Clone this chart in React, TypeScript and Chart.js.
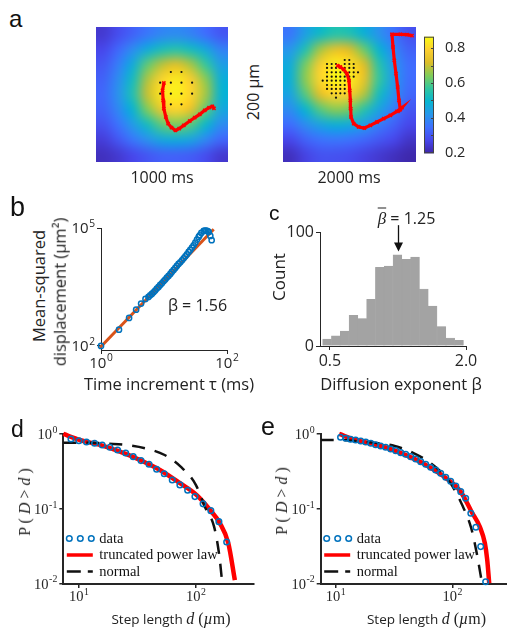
import React, { useEffect, useRef } from "react";
import { Chart, registerables } from "chart.js";
Chart.register(...registerables);

const SANS = '"Open Sans", "Noto Sans", sans-serif';
const SERIF = '"Liberation Serif", "DejaVu Serif", serif';
const LETTER = '"Liberation Sans", Arial, sans-serif';
const AX = "#262626";
const BLUE = "#0072BD";
const ORANGE = "#D95319";
const RED = "#FF0000";
const GRAY = "#a3a3a3";

// ---------------- panel a ----------------
const CB_MIN = 0.195;
const CB_MAX = 0.867;
const CB_LABEL_TICKS = [0.2, 0.4, 0.6, 0.8];
const CB_MINOR_TICKS = [0.2, 0.3, 0.4, 0.5, 0.6, 0.7, 0.8];
const PARULA = [
  [0.2422, 0.1504, 0.6603],
  [0.2803, 0.2782, 0.9221],
  [0.244, 0.4358, 0.9988],
  [0.154, 0.5902, 0.9218],
  [0.0297, 0.7082, 0.8163],
  [0.1938, 0.7758, 0.6251],
  [0.5044, 0.7993, 0.348],
  [0.8634, 0.7406, 0.1596],
  [0.9892, 0.8136, 0.1885],
  [0.9769, 0.9839, 0.0805],
];

// rows top -> bottom, columns left -> right
const HEAT_1000 = [
  [0.24, 0.28, 0.32, 0.36, 0.39, 0.4, 0.38, 0.34, 0.3],
  [0.27, 0.33, 0.4, 0.47, 0.53, 0.55, 0.52, 0.46, 0.38],
  [0.3, 0.37, 0.47, 0.61, 0.69, 0.73, 0.67, 0.57, 0.44],
  [0.32, 0.4, 0.52, 0.68, 0.8, 0.84, 0.78, 0.65, 0.48],
  [0.33, 0.41, 0.54, 0.7, 0.83, 0.85, 0.8, 0.67, 0.49],
  [0.32, 0.39, 0.49, 0.64, 0.76, 0.8, 0.74, 0.61, 0.46],
  [0.29, 0.35, 0.43, 0.52, 0.61, 0.64, 0.6, 0.5, 0.4],
  [0.25, 0.3, 0.36, 0.41, 0.46, 0.47, 0.45, 0.39, 0.33],
  [0.22, 0.24, 0.27, 0.3, 0.32, 0.32, 0.31, 0.28, 0.24],
];
const HEAT_2000 = [
  [0.36, 0.44, 0.51, 0.55, 0.54, 0.48, 0.41, 0.35, 0.29],
  [0.42, 0.54, 0.67, 0.74, 0.72, 0.62, 0.49, 0.39, 0.32],
  [0.47, 0.63, 0.78, 0.845, 0.82, 0.72, 0.55, 0.42, 0.34],
  [0.48, 0.65, 0.8, 0.86, 0.845, 0.74, 0.57, 0.43, 0.34],
  [0.45, 0.6, 0.73, 0.8, 0.78, 0.68, 0.52, 0.41, 0.33],
  [0.4, 0.49, 0.6, 0.65, 0.63, 0.55, 0.45, 0.37, 0.3],
  [0.34, 0.4, 0.45, 0.48, 0.47, 0.43, 0.37, 0.32, 0.27],
  [0.27, 0.32, 0.35, 0.36, 0.35, 0.33, 0.3, 0.27, 0.23],
  [0.22, 0.26, 0.29, 0.29, 0.28, 0.26, 0.24, 0.22, 0.2],
];

// trajectories in µm (map is 200 x 200 µm)
const TRACK_1000_X = [102.8, 100.8, 101.8, 102.8, 105.8, 109.3, 114.4, 120.4, 126, 133, 142.1, 149.6, 157.2, 164.7, 171.3, 176.3, 178.8];
const TRACK_1000_Y = [117, 106.2, 91.4, 79, 66.7, 56.8, 50.9, 46.9, 49.4, 54.3, 60.7, 65.7, 70.6, 76.5, 80.5, 82.5, 79.5];
const SITES_1000_COLS = [97.2, 113.4, 129.5, 145.6];
const SITES_1000_ROWS = [133.3, 117.5, 101.2, 85.4];
const SITES_1000_MASK = [[1, 2], [0, 1, 2, 3], [0, 1, 2, 3], [1, 2]];

const TRACK_2000_X = [194, 186.5, 176.4, 163.9, 165.4, 167.4, 169.9, 172.4, 174.4, 176.4, 178.9, 171.4, 161.4, 151.4, 141.4, 131.3, 122.3, 113.8, 106.3, 102.3, 101.8, 101.3, 100.3, 99.2, 96.2, 91.2, 86.2, 82.2];
const TRACK_2000_Y = [187.2, 188.6, 189.1, 189.1, 170.4, 150.6, 130.9, 111.1, 91.4, 77.5, 80.5, 75.1, 69.1, 64.2, 59.3, 54.3, 50.4, 51.9, 56.8, 66.7, 79, 91.4, 106.2, 121, 130.9, 137.3, 140.7, 142.7];
const SITES_2000_COLS = [59.7, 66.2, 73.2, 79.7, 86.2, 92.8, 99.7, 106.3, 112.8];
const SITES_2000_ROWS = [151.1, 145.2, 139.3, 132.9, 126.4, 120.5, 114.1, 108.2, 101.8, 95.3];
const SITES_2000_MASK = [
  [5, 6],
  [1, 2, 3, 5, 6, 7],
  [1, 2, 3, 4, 5, 6, 7],
  [1, 2, 3, 4, 5, 6, 7, 8],
  [1, 2, 3, 4, 5, 6, 7],
  [0, 1, 2, 3, 4, 5, 6],
  [1, 2, 3, 4, 5, 6],
  [1, 2, 3, 4, 5],
  [2, 3, 4, 5],
  [3],
];

// ---------------- panel b ----------------
const MSD_TAU = [1, 1.93, 2.79, 3.61, 4.33, 5.08, 5.67, 6.03, 6.41, 6.81, 7.24, 7.69, 8.19, 8.7, 9.25, 9.83, 10.45, 11.1, 11.8, 12.6, 13.3, 14.2, 15.1, 16.0, 17.0, 18.1, 19.3, 20.5, 21.8, 23.1, 24.6, 26.1, 27.8, 29.5, 31.4, 33.4, 35.5, 36.8, 39.1, 42.6, 44.8, 47.0, 49.3, 51.2, 54.4, 57.1];
const MSD_VAL = [100, 260, 516, 840, 1195, 1570, 1766, 1945, 2104, 2321, 2558, 2877, 3170, 3565, 3933, 4419, 4875, 5480, 6040, 6790, 7640, 8590, 9660, 10860, 12200, 13460, 15100, 17020, 19100, 21500, 24700, 27700, 31800, 36400, 42600, 50800, 59400, 65500, 75000, 84400, 86100, 86100, 82800, 79600, 63000, 48900];
const MSD_FIT_TAU = [0.96, 61.5];
const MSD_FIT_VAL = [90, 93000];
const B_X_TICKS = [1, 100];
const B_X_EXP = ["0", "2"];
const B_Y_TICKS = [100, 100000];
const B_Y_EXP = ["2", "5"];

// ---------------- panel c ----------------
const BETA_BINS = [0.468, 0.565, 0.662, 0.759, 0.856, 0.953, 1.05, 1.147, 1.244, 1.341, 1.438, 1.535, 1.632, 1.729, 1.826, 1.923];
const BETA_COUNTS = [6, 9, 13, 27, 24, 41, 69, 70, 80, 76, 78, 50, 35, 17, 7, 5];
const BETA_MEAN = 1.25;
const ARROW_FROM = 106;
const ARROW_TO = 83;
const C_X_TICKS = [0.5, 2.0];
const C_Y_TICKS = [0, 100];

// ---------------- panels d, e ----------------
const D_DATA_X = [8.55, 10, 11.6, 13.6, 15.8, 18.4, 21.4, 25.1, 29.1, 33.9, 39.7, 46.1, 53.6, 62.7, 72.9, 84.9, 98, 115, 134, 157, 183];
const D_DATA_Y = [0.857, 0.813, 0.782, 0.75, 0.713, 0.664, 0.611, 0.557, 0.497, 0.44, 0.393, 0.337, 0.294, 0.242, 0.208, 0.176, 0.145, 0.116, 0.094, 0.067, 0.0358];
const D_FIT_X = [7.35, 10.2, 15.1, 22.4, 33.2, 49.2, 73, 101, 132, 160, 189, 215];
const D_FIT_Y = [1.0, 0.831, 0.713, 0.58, 0.449, 0.33, 0.219, 0.153, 0.096, 0.064, 0.0344, 0.011];
const D_NORM_X = [7.35, 12, 18, 24, 37, 54, 74, 100, 119, 143, 158, 168];
const D_NORM_Y = [0.765, 0.765, 0.74, 0.72, 0.643, 0.523, 0.365, 0.207, 0.106, 0.057, 0.024, 0.0098];

const E_DATA_X = [11.0, 12.2, 13.4, 14.8, 16.4, 18.1, 20.0, 22.0, 24.3, 26.8, 29.6, 32.7, 36.1, 39.8, 44.0, 48.5, 53.5, 59.1, 65.2, 71.9, 79.4, 87.7, 96.7, 107, 118, 130, 144, 159, 175, 193];
const E_DATA_Y = [0.903, 0.875, 0.849, 0.831, 0.806, 0.782, 0.75, 0.719, 0.691, 0.664, 0.63, 0.598, 0.562, 0.535, 0.497, 0.463, 0.426, 0.393, 0.358, 0.33, 0.298, 0.263, 0.233, 0.201, 0.169, 0.138, 0.0868, 0.0564, 0.031, 0.0105];
const E_FIT_X = [10.7, 14.8, 20.0, 26.8, 36.1, 48.5, 65.2, 87.7, 118, 146, 172, 190, 199, 207];
const E_FIT_Y = [1.0, 0.83, 0.745, 0.66, 0.555, 0.455, 0.352, 0.258, 0.168, 0.091, 0.057, 0.0344, 0.0206, 0.01];
const E_NORM_X = [7.43, 11, 15, 22, 32, 46, 62, 80, 100, 122, 145, 162, 180];
const E_NORM_Y = [0.83, 0.83, 0.8, 0.76, 0.69, 0.56, 0.43, 0.31, 0.2, 0.11, 0.055, 0.025, 0.0098];

const DE_X_TICKS = [10, 100];
const DE_X_EXP = ["1", "2"];
const DE_Y_TICKS = [0.01, 0.1, 1];
const DE_Y_EXP = ["-2", "-1", "0"];
const LEGEND_LABELS = ["data", "truncated power law", "normal"];

// ---------------- helpers ----------------
function parula(t: number) {
  t = Math.max(0, Math.min(1, t));
  const n = PARULA.length - 1;
  const f = t * n;
  const i = Math.min(n - 1, Math.floor(f));
  const u = f - i;
  const a = PARULA[i], b = PARULA[i + 1];
  return [0, 1, 2].map((k) => Math.round(255 * (a[k] + (b[k] - a[k]) * u)));
}

function pts(xs: number[], ys: number[]) {
  return xs.map((x, i) => ({ x, y: ys[i] }));
}

function sitePts(cols: number[], rows: number[], mask: number[][]) {
  const out: any[] = [];
  mask.forEach((cs, r) => cs.forEach((c) => out.push({ x: cols[c], y: rows[r] })));
  return out;
}

function fixedTicks(values: number[]) {
  return (s: any) => {
    s.ticks = values.map((v) => ({ value: v }));
  };
}

function heatPlugin(grid: number[][]) {
  return {
    id: "heat",
    beforeDatasetsDraw(chart: any) {
      const { ctx, scales } = chart;
      const rows = grid.length, cols = grid[0].length;
      const src = document.createElement("canvas");
      src.width = cols;
      src.height = rows;
      const sctx = src.getContext("2d")!;
      const img = sctx.createImageData(cols, rows);
      grid.forEach((row, j) =>
        row.forEach((v, i) => {
          const c = parula((v - CB_MIN) / (CB_MAX - CB_MIN));
          const k = (j * cols + i) * 4;
          img.data[k] = c[0];
          img.data[k + 1] = c[1];
          img.data[k + 2] = c[2];
          img.data[k + 3] = 255;
        })
      );
      sctx.putImageData(img, 0, 0);
      const x0 = scales.x.getPixelForValue(0), x1 = scales.x.getPixelForValue(200);
      const y0 = scales.y.getPixelForValue(200), y1 = scales.y.getPixelForValue(0);
      ctx.save();
      ctx.imageSmoothingEnabled = true;
      ctx.imageSmoothingQuality = "high";
      ctx.drawImage(src, x0, y0, x1 - x0, y1 - y0);
      ctx.restore();
    },
  };
}

const colorbarPlugin = {
  id: "cbar",
  beforeDatasetsDraw(chart: any) {
    const { ctx, chartArea: a, scales } = chart;
    const y = scales.y;
    const g = ctx.createLinearGradient(0, y.getPixelForValue(CB_MIN), 0, y.getPixelForValue(CB_MAX));
    PARULA.forEach((c, i) =>
      g.addColorStop(i / (PARULA.length - 1), `rgb(${c.map((v) => Math.round(v * 255)).join(",")})`)
    );
    ctx.save();
    ctx.fillStyle = g;
    ctx.fillRect(a.left, a.top, a.right - a.left, a.bottom - a.top);
    ctx.strokeStyle = "#444";
    ctx.lineWidth = 1;
    ctx.strokeRect(a.left + 0.5, a.top + 0.5, a.right - a.left - 1, a.bottom - a.top - 1);
    CB_MINOR_TICKS.forEach((v) => {
      const py = Math.round(y.getPixelForValue(v)) + 0.5;
      ctx.beginPath();
      ctx.moveTo(a.right - 3, py);
      ctx.lineTo(a.right, py);
      ctx.stroke();
    });
    ctx.restore();
  },
};

const arrowPlugin = {
  id: "arrow",
  afterDatasetsDraw(chart: any) {
    const { ctx, scales } = chart;
    const px = Math.round(scales.x.getPixelForValue(BETA_MEAN)) + 0.5;
    const y0 = scales.y.getPixelForValue(ARROW_FROM);
    const y1 = scales.y.getPixelForValue(ARROW_TO);
    ctx.save();
    ctx.strokeStyle = "#111";
    ctx.fillStyle = "#111";
    ctx.lineWidth = 1.3;
    ctx.beginPath();
    ctx.moveTo(px, y0);
    ctx.lineTo(px, y1 - 6);
    ctx.stroke();
    ctx.beginPath();
    ctx.moveTo(px - 4.5, y1 - 9);
    ctx.lineTo(px + 4.5, y1 - 9);
    ctx.lineTo(px, y1);
    ctx.closePath();
    ctx.fill();
    ctx.restore();
  },
};

// power-of-ten tick labels with a real superscript exponent
function powLabels(xT: number[], xE: string[], yT: number[], yE: string[], family: string, size: number) {
  return {
    id: "pow",
    afterDraw(chart: any) {
      const { ctx, chartArea: a, scales } = chart;
      const sup = size * 0.68;
      ctx.save();
      ctx.fillStyle = AX;
      ctx.textBaseline = "alphabetic";
      ctx.textAlign = "left";
      const draw = (px: number, py: number, exp: string, align: string) => {
        ctx.font = `${size}px ${family}`;
        const w1 = ctx.measureText("10").width;
        ctx.font = `${sup}px ${family}`;
        const w2 = ctx.measureText(exp).width;
        const total = w1 + w2 + 0.5;
        const x0 = align === "center" ? px - total / 2 : px - total;
        ctx.font = `${size}px ${family}`;
        ctx.fillText("10", x0, py);
        ctx.font = `${sup}px ${family}`;
        ctx.fillText(exp, x0 + w1 + 0.5, py - size * 0.42);
      };
      xT.forEach((v, i) => draw(scales.x.getPixelForValue(v), a.bottom + 6 + size * 0.78, xE[i], "center"));
      yT.forEach((v, i) => draw(a.left - 6, scales.y.getPixelForValue(v) + size * 0.36, yE[i], "right"));
      ctx.restore();
    },
  };
}

const legendPlugin = {
  id: "lg",
  afterDatasetsDraw(chart: any) {
    const { ctx, chartArea: a } = chart;
    const L = a.left, B = a.bottom;
    const rowsY = [B - 45.5, B - 29, B - 12.5];
    ctx.save();
    ctx.strokeStyle = BLUE;
    ctx.lineWidth = 1.5;
    [6, 17, 28].forEach((dx) => {
      ctx.beginPath();
      ctx.arc(L + dx, rowsY[0], 2.8, 0, Math.PI * 2);
      ctx.stroke();
    });
    ctx.strokeStyle = RED;
    ctx.lineWidth = 3.5;
    ctx.beginPath();
    ctx.moveTo(L + 3.5, rowsY[1]);
    ctx.lineTo(L + 29.5, rowsY[1]);
    ctx.stroke();
    ctx.strokeStyle = "#111";
    ctx.lineWidth = 2.5;
    ctx.beginPath();
    ctx.moveTo(L + 3.5, rowsY[2]);
    ctx.lineTo(L + 17.5, rowsY[2]);
    ctx.moveTo(L + 24.5, rowsY[2]);
    ctx.lineTo(L + 29.5, rowsY[2]);
    ctx.stroke();
    ctx.fillStyle = "#111";
    ctx.font = `14.5px ${SERIF}`;
    ctx.textBaseline = "middle";
    LEGEND_LABELS.forEach((t, i) => ctx.fillText(t, L + 36, rowsY[i] + 0.5));
    ctx.restore();
  },
};

const baseOptions = (padding: any) => ({
  responsive: false,
  animation: false,
  devicePixelRatio: 1,
  events: [],
  layout: { padding, autoPadding: false },
  plugins: { legend: { display: false }, tooltip: { enabled: false } },
});

function heatConfig(grid: number[][], tx: number[], ty: number[], sites: any[]) {
  return {
    type: "scatter",
    data: {
      datasets: [
        {
          data: pts(tx, ty),
          showLine: true,
          borderColor: RED,
          borderWidth: 3.2,
          pointStyle: "crossRot",
          pointRadius: 2.3,
          pointBorderColor: RED,
          pointBorderWidth: 1.5,
          backgroundColor: RED,
        },
        { data: sites, pointRadius: 1.1, backgroundColor: "#111", borderWidth: 0, pointBorderWidth: 0 },
      ],
    },
    options: {
      ...baseOptions(0),
      scales: {
        x: { type: "linear", min: 0, max: 200, display: false },
        y: { type: "linear", min: 0, max: 200, display: false },
      },
    },
    plugins: [heatPlugin(grid)],
  };
}

function colorbarConfig() {
  return {
    type: "scatter",
    data: { datasets: [] },
    options: {
      ...baseOptions({ left: 4, top: 10, bottom: 10, right: 0 }),
      scales: {
        x: { type: "linear", min: 0, max: 1, display: false },
        y: {
          type: "linear",
          position: "right",
          min: CB_MIN,
          max: CB_MAX,
          afterBuildTicks: fixedTicks(CB_LABEL_TICKS),
          afterFit: (s: any) => { s.width = 36; },
          grid: { display: false },
          border: { display: false },
          ticks: { padding: 3, font: { family: SANS, size: 14.5 }, color: AX, callback: (v: any) => Number(v).toFixed(1) },
        },
      },
    },
    plugins: [colorbarPlugin],
  };
}

const tickGrid = (lw: number) => ({ display: true, drawOnChartArea: false, drawTicks: true, tickLength: 4, color: AX, lineWidth: lw });

function msdConfig() {
  return {
    type: "scatter",
    data: {
      datasets: [
        {
          data: pts(MSD_TAU, MSD_VAL),
          pointRadius: 2.6,
          pointBorderWidth: 1.5,
          borderColor: BLUE,
          pointBorderColor: BLUE,
          backgroundColor: "rgba(0,0,0,0)",
          clip: false,
        },
        { data: pts(MSD_FIT_TAU, MSD_FIT_VAL), showLine: true, borderColor: ORANGE, borderWidth: 3, pointRadius: 0, clip: false },
      ],
    },
    options: {
      ...baseOptions({ left: 6, top: 18, right: 13, bottom: 5 }),
      scales: {
        x: {
          type: "logarithmic",
          min: 1,
          max: 100,
          afterBuildTicks: fixedTicks(B_X_TICKS),
          afterFit: (s: any) => { s.height = 20; },
          grid: tickGrid(1),
          border: { display: true, color: AX, width: 1 },
          ticks: { display: false },
        },
        y: {
          type: "logarithmic",
          min: 79,
          max: 100000,
          afterBuildTicks: fixedTicks(B_Y_TICKS),
          afterFit: (s: any) => { s.width = 40; },
          grid: tickGrid(1),
          border: { display: true, color: AX, width: 1 },
          ticks: { display: false },
        },
      },
    },
    plugins: [powLabels(B_X_TICKS, B_X_EXP, B_Y_TICKS, B_Y_EXP, SANS, 15)],
  };
}

function histConfig() {
  return {
    type: "bar",
    data: {
      datasets: [
        {
          data: pts(BETA_BINS, BETA_COUNTS),
          backgroundColor: GRAY,
          borderColor: GRAY,
          borderWidth: 0.5,
          barPercentage: 1,
          categoryPercentage: 1,
        },
      ],
    },
    options: {
      ...baseOptions({ left: 15, top: 32, right: 19, bottom: 7 }),
      scales: {
        x: {
          type: "linear",
          min: 0.39,
          max: 2.0,
          offset: false,
          afterBuildTicks: fixedTicks(C_X_TICKS),
          afterFit: (s: any) => { s.height = 22; },
          grid: { ...tickGrid(1), offset: false },
          border: { display: true, color: AX, width: 1 },
          ticks: { font: { family: SANS, size: 16 }, color: AX, padding: 2, maxRotation: 0, autoSkip: false, callback: (v: any) => Number(v).toFixed(1) },
        },
        y: {
          type: "linear",
          min: 0,
          max: 100,
          afterBuildTicks: fixedTicks(C_Y_TICKS),
          afterFit: (s: any) => { s.width = 35; },
          grid: tickGrid(1),
          border: { display: true, color: AX, width: 1 },
          ticks: { font: { family: SANS, size: 16 }, color: AX, padding: 2, autoSkip: false, callback: (v: any) => String(v) },
        },
      },
    },
    plugins: [arrowPlugin],
  };
}

function ccdfConfig(dx: number[], dy: number[], fx: number[], fy: number[], nx: number[], ny: number[], xmin: number, xmax: number, padding: any) {
  return {
    type: "scatter",
    data: {
      datasets: [
        {
          data: pts(dx, dy),
          pointRadius: 2.8,
          pointBorderWidth: 1.5,
          borderColor: BLUE,
          pointBorderColor: BLUE,
          backgroundColor: "rgba(0,0,0,0)",
          clip: false,
        },
        {
          data: pts(nx, ny),
          showLine: true,
          borderColor: "#111",
          borderWidth: 2.5,
          borderDash: [13, 10],
          pointRadius: 0,
          cubicInterpolationMode: "monotone",
        },
        {
          data: pts(fx, fy),
          showLine: true,
          borderColor: RED,
          borderWidth: 4.5,
          pointRadius: 0,
          cubicInterpolationMode: "monotone",
          clip: 4,
        },
      ],
    },
    options: {
      ...baseOptions(padding),
      scales: {
        x: {
          type: "logarithmic",
          min: xmin,
          max: xmax,
          afterBuildTicks: fixedTicks(DE_X_TICKS),
          afterFit: (s: any) => { s.height = 20; },
          grid: tickGrid(1.5),
          border: { display: true, color: AX, width: 2 },
          ticks: { display: false },
        },
        y: {
          type: "logarithmic",
          min: 0.00979,
          max: 1.015,
          afterBuildTicks: fixedTicks(DE_Y_TICKS),
          afterFit: (s: any) => { s.width = 30; },
          grid: tickGrid(1.5),
          border: { display: true, color: AX, width: 2 },
          ticks: { display: false },
        },
      },
    },
    plugins: [legendPlugin, powLabels(DE_X_TICKS, DE_X_EXP, DE_Y_TICKS, DE_Y_EXP, SERIF, 14.5)],
  };
}

function ChartBox({ left, top, width, height, make }: any) {
  const ref = useRef<HTMLCanvasElement>(null);
  useEffect(() => {
    const chart = new Chart(ref.current as any, make() as any);
    return () => chart.destroy();
  }, []);
  return (
    <canvas
      ref={ref}
      width={width}
      height={height}
      style={{ position: "absolute", left, top, width, height, display: "block" }}
    />
  );
}

function T({ x, y, size = 16, family = SANS, rotate = 0, children }: any) {
  return (
    <div
      style={{
        position: "absolute",
        left: x,
        top: y,
        transform: `translate(-50%, -50%) rotate(${rotate}deg)`,
        fontSize: size,
        fontFamily: family,
        lineHeight: 1,
        whiteSpace: "nowrap",
        color: "#222",
      }}
    >
      {children}
    </div>
  );
}

function Letter({ left, baseline, size, children }: any) {
  return (
    <div
      style={{
        position: "absolute",
        left,
        top: baseline - 0.8465 * size,
        fontSize: size,
        fontFamily: LETTER,
        lineHeight: 1,
        color: "#111",
      }}
    >
      {children}
    </div>
  );
}

const sites1000 = sitePts(SITES_1000_COLS, SITES_1000_ROWS, SITES_1000_MASK);
const sites2000 = sitePts(SITES_2000_COLS, SITES_2000_ROWS, SITES_2000_MASK);

export default function App() {
  return (
    <div
      style={{
        position: "absolute",
        left: 0,
        top: 0,
        width: 507,
        height: 631,
        overflow: "hidden",
        background: "#fff",
      }}
    >
      <ChartBox left={96} top={27} width={132} height={135} make={() => heatConfig(HEAT_1000, TRACK_1000_X, TRACK_1000_Y, sites1000)} />
      <ChartBox left={283} top={27} width={133} height={135} make={() => heatConfig(HEAT_2000, TRACK_2000_X, TRACK_2000_Y, sites2000)} />
      <ChartBox left={420} top={25} width={50} height={140} make={colorbarConfig} />
      <ChartBox left={55} top={210} width={185} height={165} make={msdConfig} />
      <ChartBox left={270} top={200} width={215} height={175} make={histConfig} />
      <ChartBox
        left={20}
        top={420}
        width={240}
        height={195}
        make={() => ccdfConfig(D_DATA_X, D_DATA_Y, D_FIT_X, D_FIT_Y, D_NORM_X, D_NORM_Y, 7.35, 309, { left: 13.3, top: 13.5, right: 6.7, bottom: 11 })}
      />
      <ChartBox
        left={280}
        top={420}
        width={230}
        height={195}
        make={() => ccdfConfig(E_DATA_X, E_DATA_Y, E_FIT_X, E_FIT_Y, E_NORM_X, E_NORM_Y, 7.43, 312, { left: 10.7, top: 13.5, right: 0, bottom: 11 })}
      />

      <Letter left={9} baseline={27} size={24}>a</Letter>
      <Letter left={10} baseline={217} size={27}>b</Letter>
      <Letter left={269} baseline={220} size={21}>c</Letter>
      <Letter left={11} baseline={437} size={23}>d</Letter>
      <Letter left={261} baseline={435} size={25}>e</Letter>

      <T x={162} y={177}>1000 ms</T>
      <T x={349} y={177}>2000 ms</T>
      <T x={252.5} y={92} rotate={-90}>200 µm</T>

      <T x={38.5} y={286} size={16.5} rotate={-90}>Mean-squared</T>
      <T x={59.5} y={292} size={16.5} rotate={-90}>displacement (µm²)</T>
      <T x={169} y={384} size={16.5}>Time increment τ (ms)</T>
      <T x={197.5} y={305} size={16}>β = 1.56</T>

      <T x={278} y={277} size={17} rotate={-90}>Count</T>
      <T x={401} y={384} size={16.5}>Diffusion exponent β</T>
      <T x={406.5} y={218} size={16}>
        <span style={{ fontFamily: SERIF, fontStyle: "italic", textDecoration: "overline", fontSize: 17 }}>β</span> = 1.25
      </T>

      <T x={25} y={502} size={16} family={SERIF} rotate={-90}>
        P ( <i>D</i> &gt; <i>d</i> )
      </T>
      <T x={171} y={619} size={13.5}>
        Step length <span style={{ fontFamily: SERIF, fontSize: 16 }}><i>d</i> (<i>µ</i>m)</span>
      </T>
      <T x={282} y={501} size={16} family={SERIF} rotate={-90}>
        P ( <i>D</i> &gt; <i>d</i> )
      </T>
      <T x={426.5} y={619} size={13.5}>
        Step length <span style={{ fontFamily: SERIF, fontSize: 16 }}><i>d</i> (<i>µ</i>m)</span>
      </T>
    </div>
  );
}
